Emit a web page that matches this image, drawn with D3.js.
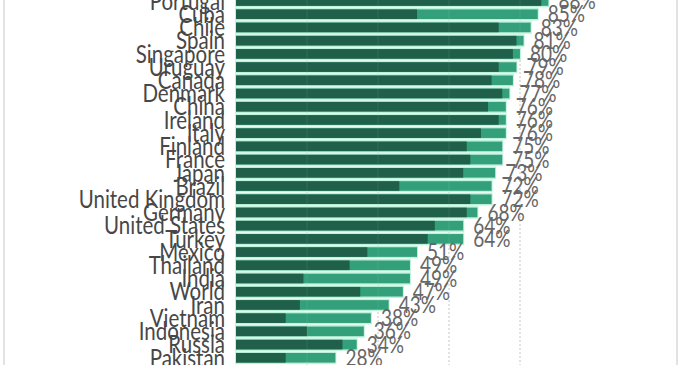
<!DOCTYPE html>
<html>
<head>
<meta charset="UTF-8">
<script src="https://cdn.jsdelivr.net/npm/d3@7"></script>
<style>
body { margin: 0; background: #fff; }
</style>
</head>
<body>
<script>
// countries, top to bottom
var countries = ["Portugal", "Cuba", "Chile", "Spain", "Singapore", "Uruguay", "Canada", "Denmark",
    "China", "Ireland", "Italy", "Finland", "France", "Japan", "Brazil", "United Kingdom", "Germany",
    "United States", "Turkey", "Mexico", "Thailand", "India", "World", "Iran", "Vietnam", "Indonesia",
    "Russia", "Pakistan"];
// dark part of each bar (%)
var darkValues = [86, 51, 74, 79, 78, 74, 72, 75, 71, 74, 69, 65, 66, 64, 46, 66, 65, 56, 54, 37, 32, 19, 35, 18, 14, 20, 30, 14];
// total of each bar (%), shown as label
var totalValues = [88, 85, 83, 81, 80, 79, 78, 77, 76, 76, 76, 75, 75, 73, 72, 72, 68, 64, 64, 51, 49, 49, 47, 43, 38, 36, 34, 28];
var gridTicks = [20, 40, 60, 80];

var Width = 680, Height = 365;
var svg = d3.select("body").append("svg")
    .attr("width", Width)
    .attr("height", Height);

var dark = "#20604a", light = "#34a07b", mint = "#bdf2dc";

var x = d3.scaleLinear().domain([0, 100]).range([236, 591]);
var y = d3.scaleBand().domain(countries).range([-5.6, 364.4]).padding(0);
var pitch = y.bandwidth();

// frame lines
svg.append("rect").attr("x", 3).attr("y", 0).attr("width", 2).attr("height", Height).attr("fill", "#e2e2e2");
svg.append("rect").attr("x", 676).attr("y", 0).attr("width", 2).attr("height", Height).attr("fill", "#e2e2e2");

// dotted grid
svg.append("g").selectAll("line")
    .data(gridTicks)
    .enter().append("line")
    .attr("x1", function(d){ return x(d); })
    .attr("x2", function(d){ return x(d); })
    .attr("y1", 0).attr("y2", Height)
    .attr("stroke", "#c4c4c4")
    .attr("stroke-width", 1)
    .attr("stroke-dasharray", "2,2");

var rows = svg.append("g").selectAll("g")
    .data(countries)
    .enter().append("g")
    .attr("transform", function(d){ return "translate(0," + y(d) + ")"; });

// mint outline behind
rows.append("rect")
    .attr("x", x(0) - 1)
    .attr("y", 0.3)
    .attr("width", function(d, i){ return x(totalValues[i]) - x(0) + 2; })
    .attr("height", pitch - 0.6)
    .attr("fill", mint);

rows.append("rect")
    .attr("x", x(0))
    .attr("y", 1.8)
    .attr("width", function(d, i){ return x(totalValues[i]) - x(0); })
    .attr("height", pitch - 3.6)
    .attr("fill", light);

rows.append("rect")
    .attr("x", x(0))
    .attr("y", 1.8)
    .attr("width", function(d, i){ return x(darkValues[i]) - x(0); })
    .attr("height", pitch - 3.6)
    .attr("fill", dark);

// faint grid over the bars
svg.append("g").selectAll("line")
    .data(gridTicks)
    .enter().append("line")
    .attr("x1", function(d){ return x(d); })
    .attr("x2", function(d){ return x(d); })
    .attr("y1", 0).attr("y2", Height)
    .attr("stroke", "#ffffff")
    .attr("stroke-opacity", 0.08)
    .attr("stroke-width", 1);

// text is a bit stretched vertically in the original
var stretch = 1.18;

// country names
rows.append("text")
    .attr("transform", "translate(225," + (pitch / 2) + ") scale(1," + stretch + ")")
    .attr("dy", "0.36em")
    .attr("text-anchor", "end")
    .attr("font-family", "Lato, sans-serif")
    .attr("font-size", 20.5)
    .attr("fill", "#474747")
    .text(function(d){ return d; });

// percent labels
rows.append("text")
    .attr("transform", function(d, i){
        return "translate(" + (x(totalValues[i]) + 10) + "," + (pitch / 2) + ") scale(1," + stretch + ")";
    })
    .attr("dy", "0.36em")
    .attr("font-family", "Lato, sans-serif")
    .attr("font-size", 19)
    .attr("fill", "#666")
    .text(function(d, i){ return totalValues[i] + "%"; });
</script>
</body>
</html>
